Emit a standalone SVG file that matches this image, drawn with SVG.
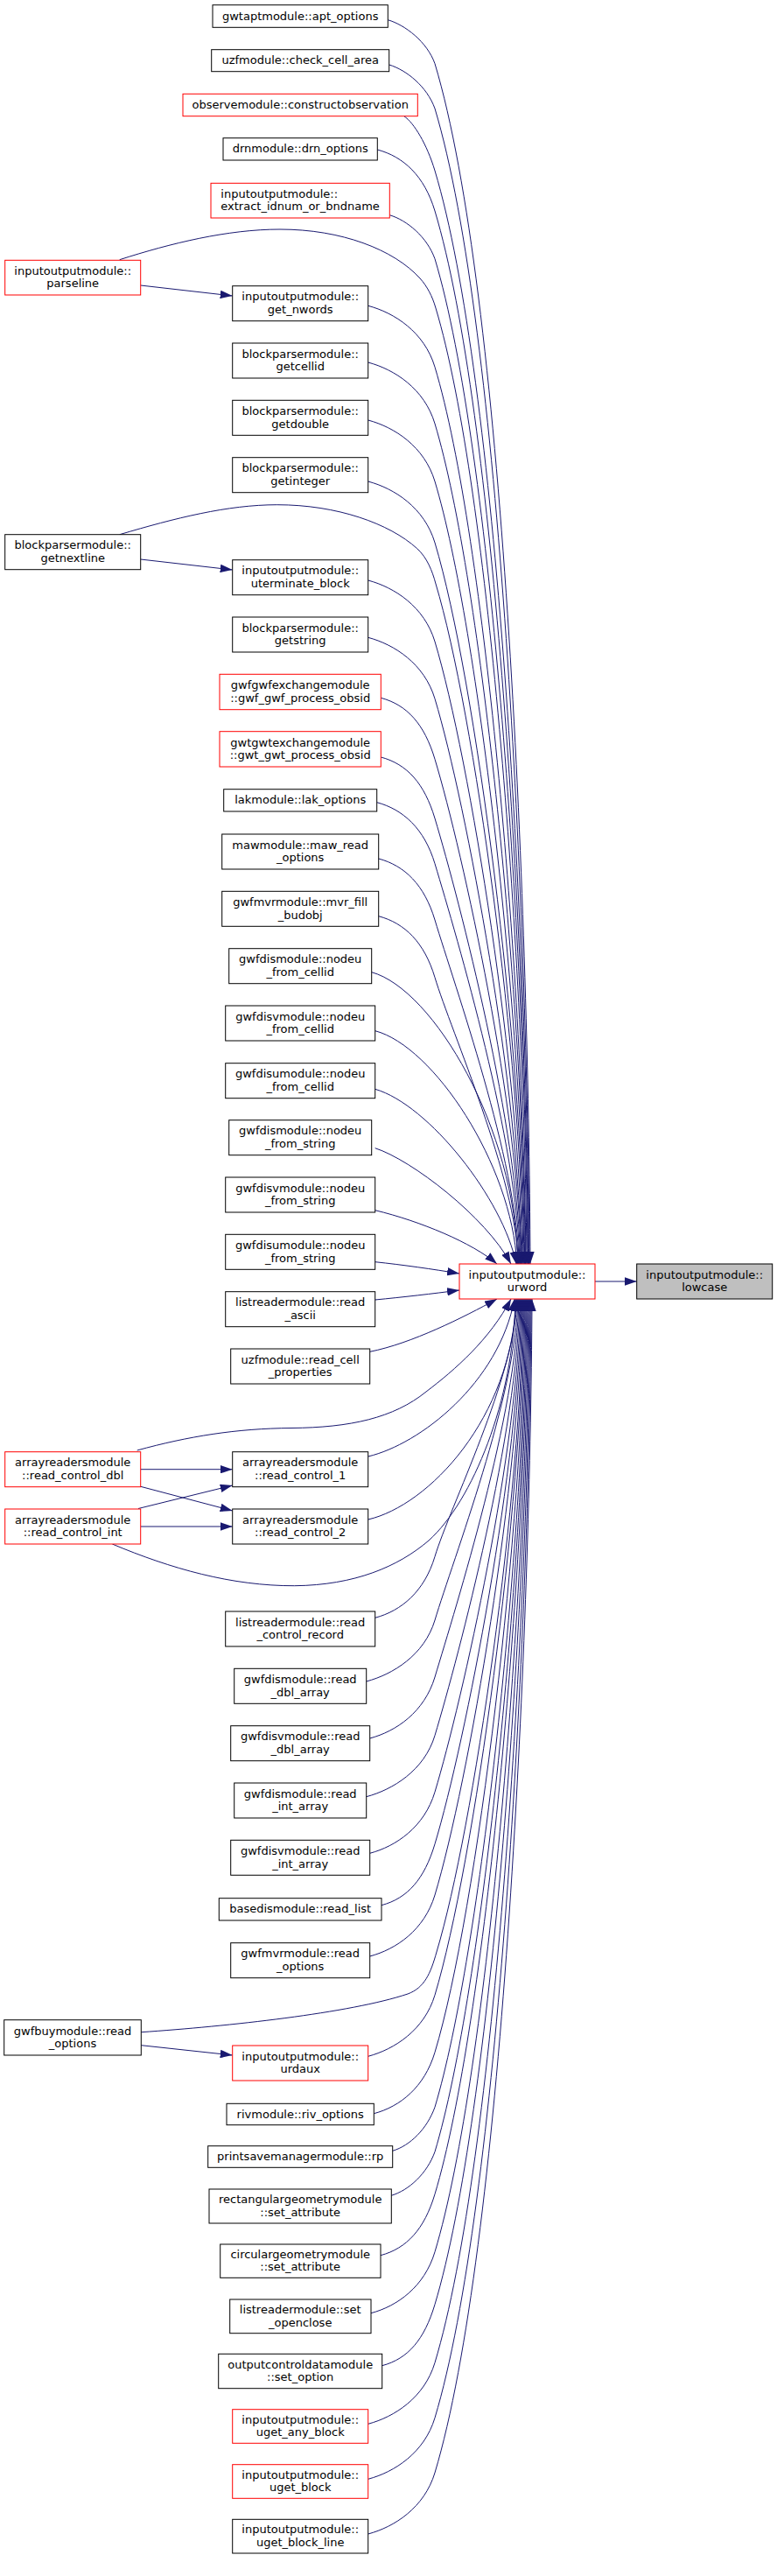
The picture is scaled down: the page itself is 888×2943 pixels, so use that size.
<svg xmlns="http://www.w3.org/2000/svg" width="888" height="2943" viewBox="0 0 888 2943">
<style>
.n rect{fill:#fff;stroke:#000;stroke-width:1}
.n.r rect{stroke:#f00}
.n.root rect{fill:#bfbfbf;stroke:#000}
text{font-family:"DejaVu Sans","Liberation Sans",sans-serif;font-size:13px;text-anchor:middle;fill:#000}
.e path{fill:none;stroke:#191970;stroke-width:1;marker-end:url(#ah)}
</style>
<defs>
<marker id="ah" viewBox="0 0 14 9.5" refX="14" refY="4.75" markerWidth="14" markerHeight="9.5" markerUnits="userSpaceOnUse" orient="auto">
<path d="M0,0 L14,4.75 L0,9.5 z" fill="#191970"/>
</marker>
</defs>
<rect width="888" height="2943" fill="#fff"/>
<g id="connectors" class="e">
<path d="M443.3,22.7 C463.3,28.7 488,47.7 497,72.7 C575.2,333.2 604,1032.6 606,1444"/>
<path d="M444.7,74 C464.7,80 488,99 497,124 C572.2,374.8 603,1048 605,1444"/>
<path d="M461.7,132.7 C473,140 488,165 497,195 C568.2,432.3 602.5,1069.3 604.5,1444"/>
<path d="M431.3,171 C461.3,179 485,201 497,241 C565.6,469.6 601.6,1083.1 603.6,1444"/>
<path d="M445.3,245.7 C465.3,251.7 488,270.7 497,295.7 C562.5,513.9 601,1099.5 603,1444"/>
<path d="M136.7,296.7 C195,278 260,262 320,262 C390,262 450,285 480,318 C488,327 494,338 498,352 C560.2,559.5 600,1116.4 602,1444"/>
<path d="M420.7,349.3 C450.7,357.3 485,379.3 497,419.3 C555.4,614 599,1136.6 601,1444"/>
<path d="M420.7,414 C450.7,422 485,444 497,484 C551.7,666.4 598.5,1156 600.5,1444"/>
<path d="M420.7,480 C450.7,488 485,510 497,550 C548,719.9 597.7,1175.8 599.7,1444"/>
<path d="M420.7,550 C450.7,558 485,580 497,620 C544,776.6 597,1196.8 599,1444"/>
<path d="M136.7,610.7 C200,592 260,576.7 316.7,576.7 C385,576.7 445,598 476.7,626.7 C488,637 494,652 498,667 C542.3,814.6 596,1210.9 598,1444"/>
<path d="M420.7,663 C450.7,671 485,693 497,733 C537.5,868.1 595,1230.7 597,1444"/>
<path d="M420.7,728.3 C450.7,736.3 485,758.3 497,798.3 C533.8,921 594,1250.3 596,1444"/>
<path d="M435.3,797.3 C465.3,805.3 485,827.3 497,867.3 C529.9,976.9 593.6,1271 595.6,1444"/>
<path d="M435.3,865 C465.3,873 485,895 497,935 C526,1031.7 592.8,1291.3 594.8,1444"/>
<path d="M430.7,916.7 C460.7,924.7 485,946.7 497,986.7 C523.1,1073.6 592,1306.8 594,1444"/>
<path d="M432.7,981 C462.7,989 485,1011 497,1051 C519.4,1125.7 591.2,1326.1 593.2,1444"/>
<path d="M432.7,1046.7 C462.7,1054.7 485,1076.7 497,1116.7 C515.7,1178.9 590.4,1345.8 592.4,1444"/>
<path d="M424.7,1110.7 C495,1130 590,1290 591.6,1444"/>
<path d="M428.7,1177.7 C495,1195 585,1330 590.8,1444"/>
<path d="M428.7,1244.3 C490,1262 575,1370 590,1444"/>
<path d="M428.7,1311.7 C470,1325 555,1390 584,1444"/>
<path d="M428.7,1382.7 C480,1395 540,1420 568,1444"/>
<path d="M428.7,1441.7 C460,1445 495,1450 525,1455"/>
<path d="M428.7,1485 C460,1482 495,1478 525,1474"/>
<path d="M422.7,1544.3 C470,1535 530,1505 568,1484"/>
<path d="M156.7,1657 C215,1641 270,1632 333,1631.5 C400,1631 450,1620 487,1590 C520,1565 560,1530 584,1484"/>
<path d="M420.7,1664 C480,1650 570,1580 588,1484"/>
<path d="M128.3,1764 C195,1792 265,1812 336.7,1811.7 C405,1811 455,1790 490,1760 C540,1715 587,1600 589,1484"/>
<path d="M420.7,1736 C490,1720 585,1620 590,1484"/>
<path d="M428.7,1848.3 C458.7,1840.3 485,1818.3 497,1778.3 C513.8,1722.4 589,1572.3 591,1484"/>
<path d="M418.7,1921 C448.7,1913 485,1891 497,1851 C517.9,1781.3 590,1594.1 592,1484"/>
<path d="M422.7,1986 C452.7,1978 485,1956 497,1916 C521.6,1833.9 591,1613.6 593,1484"/>
<path d="M418.7,2052.7 C448.7,2044.7 485,2022.7 497,1982.7 C525.4,1887.9 592,1633.6 594,1484"/>
<path d="M422.7,2117.3 C452.7,2109.3 485,2087.3 497,2047.3 C529.1,1940.3 593,1653 595,1484"/>
<path d="M436,2176.7 C466,2168.7 485,2146.7 497,2106.7 C532.5,1988.4 594,1670.8 596,1484"/>
<path d="M422.7,2235 C452.7,2227 485,2205 497,2165 C535.8,2035.6 595,1688.3 597,1484"/>
<path d="M161.3,2321.7 C260,2315 400,2300 466,2278 C485,2271 492,2255 499,2230 C541.5,2088.3 596,1707.8 598,1484"/>
<path d="M420.7,2349.3 C450.7,2341.3 485,2319.3 497,2279.3 C542.3,2128.2 597,1722.6 599,1484"/>
<path d="M427.3,2414.7 C457.3,2406.7 485,2384.7 497,2344.7 C546.1,2181.2 598,1742.2 600,1484"/>
<path d="M448.7,2457.3 C468.7,2451.3 488,2432.3 497,2407.3 C549.6,2231.9 599,1761 601,1484"/>
<path d="M447.3,2508.3 C467.3,2502.3 488,2483.3 497,2458.3 C552.5,2273.2 600,1776.3 602,1484"/>
<path d="M435,2576.7 C465,2568.7 485,2546.7 497,2506.7 C555.3,2312.4 601,1790.8 603,1484"/>
<path d="M424,2642.7 C454,2634.7 485,2612.7 497,2572.7 C559.1,2365.8 602,1810.6 604,1484"/>
<path d="M436.7,2702.7 C466.7,2694.7 485,2672.7 497,2632.7 C562.5,2414.4 603,1828.6 605,1484"/>
<path d="M420.7,2769.3 C450.7,2761.3 485,2739.3 497,2699.3 C566.3,2468.4 604,1848.6 606,1484"/>
<path d="M420.7,2832.3 C450.7,2824.3 485,2802.3 497,2762.3 C569.9,2519.4 605,1867.5 607,1484"/>
<path d="M420.7,2895 C450.7,2887 485,2865 497,2825 C573.4,2570.2 606,1886.3 608,1484"/>
<path d="M160.7,326 L265.7,338"/>
<path d="M160.7,639 L265.7,651"/>
<path d="M160.7,1678.7 L265.7,1678.7"/>
<path d="M160.7,1698.3 L265.7,1726"/>
<path d="M158,1723.5 L265.7,1697"/>
<path d="M160.7,1744 L265.7,1744"/>
<path d="M161.3,2336.7 L265.7,2348"/>
<path d="M680,1464 L727.7,1464"/>
</g>
<g id="n_apt" class="n"><rect x="243" y="5.7" width="200.3" height="25.6"/><text x="343.2" y="22.5">gwtaptmodule::apt_options</text></g>
<g id="n_check" class="n"><rect x="241.7" y="56.7" width="203" height="25"/><text x="343.2" y="73.2">uzfmodule::check_cell_area</text></g>
<g id="n_constr" class="n r"><rect x="209" y="107.3" width="268.3" height="25.4"/><text x="343.2" y="124">observemodule::constructobservation</text></g>
<g id="n_drn" class="n"><rect x="255" y="157.7" width="176.3" height="25.3"/><text x="343.2" y="174.3">drnmodule::drn_options</text></g>
<g id="n_extract" class="n r"><rect x="241" y="209.3" width="204.3" height="39.7"/><text x="252.3" y="226" style="text-anchor:start"><tspan x="252.3">inputoutputmodule::</tspan><tspan x="252.3" y="240.4">extract_idnum_or_bndname</tspan></text></g>
<g id="n_parseline" class="n r"><rect x="5.7" y="297.3" width="155" height="39.7"/><text x="83.2" y="314"><tspan x="83.2">inputoutputmodule::</tspan><tspan x="83.2" y="328.4">parseline</tspan></text></g>
<g id="n_getnwords" class="n"><rect x="265.7" y="326.7" width="155" height="40"/><text x="343.2" y="343.4"><tspan x="343.2">inputoutputmodule::</tspan><tspan x="343.2" y="357.9">get_nwords</tspan></text></g>
<g id="n_getcellid" class="n"><rect x="265.7" y="392" width="155" height="40"/><text x="343.2" y="408.7"><tspan x="343.2">blockparsermodule::</tspan><tspan x="343.2" y="423.2">getcellid</tspan></text></g>
<g id="n_getdouble" class="n"><rect x="265.7" y="457.3" width="155" height="40"/><text x="343.2" y="474"><tspan x="343.2">blockparsermodule::</tspan><tspan x="343.2" y="488.5">getdouble</tspan></text></g>
<g id="n_getinteger" class="n"><rect x="265.7" y="522.7" width="155" height="40"/><text x="343.2" y="539.4"><tspan x="343.2">blockparsermodule::</tspan><tspan x="343.2" y="553.9">getinteger</tspan></text></g>
<g id="n_getnextline" class="n"><rect x="5.7" y="610.7" width="155" height="40"/><text x="83.2" y="627.4"><tspan x="83.2">blockparsermodule::</tspan><tspan x="83.2" y="641.9">getnextline</tspan></text></g>
<g id="n_uterminate" class="n"><rect x="265.7" y="639.7" width="155" height="40"/><text x="343.2" y="656.4"><tspan x="343.2">inputoutputmodule::</tspan><tspan x="343.2" y="670.9">uterminate_block</tspan></text></g>
<g id="n_getstring" class="n"><rect x="265.7" y="705" width="155" height="40"/><text x="343.2" y="721.7"><tspan x="343.2">blockparsermodule::</tspan><tspan x="343.2" y="736.2">getstring</tspan></text></g>
<g id="n_gwfgwf" class="n r"><rect x="251" y="770.3" width="184.3" height="40.4"/><text x="343.2" y="787.2"><tspan x="343.2">gwfgwfexchangemodule</tspan><tspan x="343.2" y="801.7">::gwf_gwf_process_obsid</tspan></text></g>
<g id="n_gwtgwt" class="n r"><rect x="251" y="835.7" width="184.3" height="40.3"/><text x="343.2" y="852.5"><tspan x="343.2">gwtgwtexchangemodule</tspan><tspan x="343.2" y="867">::gwt_gwt_process_obsid</tspan></text></g>
<g id="n_lak" class="n"><rect x="255.7" y="901.7" width="175" height="25.3"/><text x="343.2" y="918.3">lakmodule::lak_options</text></g>
<g id="n_maw" class="n"><rect x="253.7" y="953" width="179" height="40"/><text x="343.2" y="969.7"><tspan x="343.2">mawmodule::maw_read</tspan><tspan x="343.2" y="984.2">_options</tspan></text></g>
<g id="n_mvrfill" class="n"><rect x="253.7" y="1018.3" width="179" height="40"/><text x="343.2" y="1035"><tspan x="343.2">gwfmvrmodule::mvr_fill</tspan><tspan x="343.2" y="1049.5">_budobj</tspan></text></g>
<g id="n_dis_nc" class="n"><rect x="261.7" y="1083.7" width="163" height="40"/><text x="343.2" y="1100.4"><tspan x="343.2">gwfdismodule::nodeu</tspan><tspan x="343.2" y="1114.9">_from_cellid</tspan></text></g>
<g id="n_disv_nc" class="n"><rect x="257.7" y="1149" width="171" height="40"/><text x="343.2" y="1165.7"><tspan x="343.2">gwfdisvmodule::nodeu</tspan><tspan x="343.2" y="1180.2">_from_cellid</tspan></text></g>
<g id="n_disu_nc" class="n"><rect x="257.7" y="1214.7" width="171" height="40"/><text x="343.2" y="1231.4"><tspan x="343.2">gwfdisumodule::nodeu</tspan><tspan x="343.2" y="1245.9">_from_cellid</tspan></text></g>
<g id="n_dis_ns" class="n"><rect x="261.7" y="1279.7" width="163" height="40"/><text x="343.2" y="1296.4"><tspan x="343.2">gwfdismodule::nodeu</tspan><tspan x="343.2" y="1310.9">_from_string</tspan></text></g>
<g id="n_disv_ns" class="n"><rect x="257.7" y="1345" width="171" height="40"/><text x="343.2" y="1361.7"><tspan x="343.2">gwfdisvmodule::nodeu</tspan><tspan x="343.2" y="1376.2">_from_string</tspan></text></g>
<g id="n_disu_ns" class="n"><rect x="257.7" y="1410.3" width="171" height="40"/><text x="343.2" y="1427"><tspan x="343.2">gwfdisumodule::nodeu</tspan><tspan x="343.2" y="1441.5">_from_string</tspan></text></g>
<g id="n_readascii" class="n"><rect x="257.7" y="1475.7" width="171" height="40"/><text x="343.2" y="1492.4"><tspan x="343.2">listreadermodule::read</tspan><tspan x="343.2" y="1506.9">_ascii</tspan></text></g>
<g id="n_readcell" class="n"><rect x="263.7" y="1541" width="159" height="40"/><text x="343.2" y="1557.7"><tspan x="343.2">uzfmodule::read_cell</tspan><tspan x="343.2" y="1572.2">_properties</tspan></text></g>
<g id="n_rcdbl" class="n r"><rect x="5.7" y="1658.7" width="155" height="40"/><text x="83.2" y="1675.4"><tspan x="83.2">arrayreadersmodule</tspan><tspan x="83.2" y="1689.9">::read_control_dbl</tspan></text></g>
<g id="n_rc1" class="n"><rect x="265.7" y="1658.7" width="155" height="40"/><text x="343.2" y="1675.4"><tspan x="343.2">arrayreadersmodule</tspan><tspan x="343.2" y="1689.9">::read_control_1</tspan></text></g>
<g id="n_rcint" class="n r"><rect x="5.7" y="1724" width="155" height="40"/><text x="83.2" y="1740.7"><tspan x="83.2">arrayreadersmodule</tspan><tspan x="83.2" y="1755.2">::read_control_int</tspan></text></g>
<g id="n_rc2" class="n"><rect x="265.7" y="1724" width="155" height="40"/><text x="343.2" y="1740.7"><tspan x="343.2">arrayreadersmodule</tspan><tspan x="343.2" y="1755.2">::read_control_2</tspan></text></g>
<g id="n_rcrec" class="n"><rect x="257.7" y="1841" width="171" height="40"/><text x="343.2" y="1857.7"><tspan x="343.2">listreadermodule::read</tspan><tspan x="343.2" y="1872.2">_control_record</tspan></text></g>
<g id="n_dis_rd" class="n"><rect x="267.7" y="1906.3" width="151" height="40"/><text x="343.2" y="1923"><tspan x="343.2">gwfdismodule::read</tspan><tspan x="343.2" y="1937.5">_dbl_array</tspan></text></g>
<g id="n_disv_rd" class="n"><rect x="263.7" y="1971.7" width="159" height="40"/><text x="343.2" y="1988.4"><tspan x="343.2">gwfdisvmodule::read</tspan><tspan x="343.2" y="2002.9">_dbl_array</tspan></text></g>
<g id="n_dis_ri" class="n"><rect x="267.7" y="2037" width="151" height="40"/><text x="343.2" y="2053.7"><tspan x="343.2">gwfdismodule::read</tspan><tspan x="343.2" y="2068.2">_int_array</tspan></text></g>
<g id="n_disv_ri" class="n"><rect x="263.7" y="2102.3" width="159" height="40"/><text x="343.2" y="2119"><tspan x="343.2">gwfdisvmodule::read</tspan><tspan x="343.2" y="2133.5">_int_array</tspan></text></g>
<g id="n_readlist" class="n"><rect x="250.3" y="2168.7" width="185.7" height="25.3"/><text x="343.2" y="2185.3">basedismodule::read_list</text></g>
<g id="n_mvr_ro" class="n"><rect x="263.7" y="2219.7" width="159" height="40"/><text x="343.2" y="2236.4"><tspan x="343.2">gwfmvrmodule::read</tspan><tspan x="343.2" y="2250.9">_options</tspan></text></g>
<g id="n_buy_ro" class="n"><rect x="4.7" y="2307.7" width="156.6" height="40.3"/><text x="83" y="2324.5"><tspan x="83">gwfbuymodule::read</tspan><tspan x="83" y="2339">_options</tspan></text></g>
<g id="n_urdaux" class="n r"><rect x="265.7" y="2337" width="155" height="40"/><text x="343.2" y="2353.7"><tspan x="343.2">inputoutputmodule::</tspan><tspan x="343.2" y="2368.2">urdaux</tspan></text></g>
<g id="n_riv" class="n"><rect x="259" y="2403.3" width="168.3" height="24.4"/><text x="343.2" y="2419.5">rivmodule::riv_options</text></g>
<g id="n_rp" class="n"><rect x="237.7" y="2451.7" width="211" height="24.6"/><text x="343.2" y="2468">printsavemanagermodule::rp</text></g>
<g id="n_rect" class="n"><rect x="239" y="2501" width="208.3" height="39"/><text x="343.2" y="2517.2"><tspan x="343.2">rectangulargeometrymodule</tspan><tspan x="343.2" y="2531.7">::set_attribute</tspan></text></g>
<g id="n_circ" class="n"><rect x="251.7" y="2564" width="183.3" height="38.3"/><text x="343.2" y="2579.9"><tspan x="343.2">circulargeometrymodule</tspan><tspan x="343.2" y="2594.4">::set_attribute</tspan></text></g>
<g id="n_openclose" class="n"><rect x="262.7" y="2627" width="161.3" height="38.7"/><text x="343.2" y="2643"><tspan x="343.2">listreadermodule::set</tspan><tspan x="343.2" y="2657.5">_openclose</tspan></text></g>
<g id="n_setopt" class="n"><rect x="249.7" y="2689.3" width="187" height="39.4"/><text x="343.2" y="2705.7"><tspan x="343.2">outputcontroldatamodule</tspan><tspan x="343.2" y="2720.2">::set_option</tspan></text></g>
<g id="n_ugetany" class="n r"><rect x="265.7" y="2752.7" width="155" height="38.6"/><text x="343.2" y="2768.7"><tspan x="343.2">inputoutputmodule::</tspan><tspan x="343.2" y="2783.2">uget_any_block</tspan></text></g>
<g id="n_ugetblock" class="n r"><rect x="265.7" y="2815.7" width="155" height="38.6"/><text x="343.2" y="2831.7"><tspan x="343.2">inputoutputmodule::</tspan><tspan x="343.2" y="2846.2">uget_block</tspan></text></g>
<g id="n_ugetline" class="n"><rect x="265.7" y="2878.3" width="155" height="38.7"/><text x="343.2" y="2894.4"><tspan x="343.2">inputoutputmodule::</tspan><tspan x="343.2" y="2908.9">uget_block_line</tspan></text></g>
<g id="n_urword" class="n r"><rect x="525" y="1444" width="155" height="40"/><text x="602.5" y="1460.7"><tspan x="602.5">inputoutputmodule::</tspan><tspan x="602.5" y="1475.2">urword</tspan></text></g>
<g id="n_lowcase" class="n root"><rect x="727.7" y="1444" width="155" height="40"/><text x="805.2" y="1460.7"><tspan x="805.2">inputoutputmodule::</tspan><tspan x="805.2" y="1475.2">lowcase</tspan></text></g>
</svg>
